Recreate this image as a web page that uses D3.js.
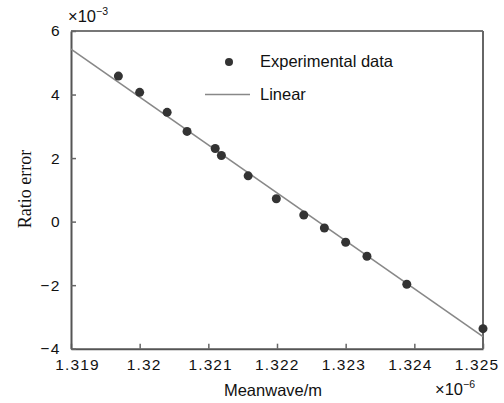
<!DOCTYPE html>
<html>
<head>
<meta charset="utf-8">
<title>Ratio error</title>
<script src="https://cdn.jsdelivr.net/npm/d3@7"></script>
<style>
  body { margin: 0; background: #fff; }
  text { font-family: "Liberation Sans", Arial, sans-serif; fill: #111; }
</style>
</head>
<body>
<svg id="chart" width="504" height="403"></svg>
<script>
// wavelength (x1e-6 m) and ratio error (x1e-3)
const waveValues = [1.31969, 1.3200, 1.3204, 1.32069, 1.3211, 1.32119, 1.32158,
                    1.32199, 1.32239, 1.32269, 1.3230, 1.32331, 1.32389, 1.3250];
const errorValues = [4.58, 4.07, 3.44, 2.84, 2.30, 2.08, 1.44,
                     0.72, 0.21, -0.20, -0.65, -1.09, -1.97, -3.37];
// linear fit end points
const fitWave = [1.319, 1.325];
const fitError = [5.43, -3.62];

const xTicks = [1.319, 1.32, 1.321, 1.322, 1.323, 1.324, 1.325];
const xTickLabels = ["1.319", "1.32", "1.321", "1.322", "1.323", "1.324", "1.325"];
const yTicks = [-4, -2, 0, 2, 4, 6];

const margin = { top: 31, right: 21, bottom: 55, left: 71 };
const width = 504 - margin.left - margin.right,
      height = 403 - margin.top - margin.bottom + 0.7;

const svg = d3.select("#chart");
const g = svg.append("g").attr("transform", `translate(${margin.left},${margin.top})`);

const x = d3.scaleLinear().domain([1.319, 1.325]).range([0, width]);
const y = d3.scaleLinear().domain([-4, 6]).range([height, 0]);
// the tick labels sit on a slightly narrower spread than the ticks
const xLabel = d3.scaleLinear().domain([1.319, 1.325]).range([6, 405.5]);

// frame top / right
g.append("line").attr("x1", 0).attr("x2", width).attr("y1", 0).attr("y2", 0)
  .attr("stroke", "#777").attr("stroke-width", 2);
g.append("line").attr("x1", width).attr("x2", width).attr("y1", 0).attr("y2", height)
  .attr("stroke", "#666").attr("stroke-width", 2);

// x axis
const gx = g.append("g").attr("transform", `translate(0,${height})`)
  .call(d3.axisBottom(x).tickValues(xTicks)
    .tickFormat((d, i) => xTickLabels[i]).tickSize(-5).tickPadding(10).tickSizeOuter(0));
gx.select(".domain").attr("stroke", "#555").attr("stroke-width", 2);
gx.selectAll(".tick line").attr("stroke", "#666").attr("stroke-width", 1.5);
gx.selectAll(".tick text").attr("font-size", 15.5).attr("letter-spacing", 1.1)
  .attr("x", d => xLabel(d) - x(d))
  .attr("font-family", "Liberation Sans, Arial, sans-serif").attr("fill", "#111");

// y axis
const gy = g.append("g")
  .call(d3.axisLeft(y).tickValues(yTicks).tickFormat(d => d < 0 ? "\u2212" + Math.abs(d) : d)
    .tickSize(-5).tickPadding(10).tickSizeOuter(0));
gy.select(".domain").attr("stroke", "#555").attr("stroke-width", 2);
gy.selectAll(".tick line").attr("stroke", "#666").attr("stroke-width", 1.5);
gy.selectAll("text").attr("font-size", 15.5).attr("letter-spacing", 1.5)
  .attr("font-family", "Liberation Sans, Arial, sans-serif").attr("fill", "#111");

// fit line
g.append("line")
  .attr("x1", x(fitWave[0])).attr("y1", y(fitError[0]))
  .attr("x2", x(fitWave[1])).attr("y2", y(fitError[1]))
  .attr("stroke", "#888").attr("stroke-width", 1.6);

// data points
g.selectAll("circle.pt")
  .data(waveValues.map((w, i) => [w, errorValues[i]]))
  .join("circle")
  .attr("class", "pt")
  .attr("cx", d => x(d[0])).attr("cy", d => y(d[1]))
  .attr("r", 4.5).attr("fill", "#333");

// legend
const lg = svg.append("g");
lg.append("circle").attr("cx", 229).attr("cy", 62).attr("r", 4).attr("fill", "#333");
lg.append("text").attr("x", 260).attr("y", 67).attr("font-size", 16.5).text("Experimental data");
lg.append("line").attr("x1", 205).attr("x2", 250).attr("y1", 94.5).attr("y2", 94.5)
  .attr("stroke", "#888").attr("stroke-width", 1.6);
lg.append("text").attr("x", 260).attr("y", 100).attr("font-size", 16.5).text("Linear");

// axis titles
svg.append("text").attr("transform", "translate(31,189) rotate(-90)")
  .attr("text-anchor", "middle").attr("font-size", 18)
  .style("font-family", "'Liberation Serif', 'Times New Roman', serif")
  .text("Ratio error");
svg.append("text").attr("x", 273).attr("y", 396).attr("text-anchor", "middle")
  .attr("font-size", 16.5).text("Meanwave/m");

// exponent labels
const e1 = svg.append("text").attr("x", 68).attr("y", 22).attr("font-size", 16.5);
e1.append("tspan").text("\u00d710");
e1.append("tspan").attr("dy", -7).attr("font-size", 10.5).text("\u22123");
const e2 = svg.append("text").attr("x", 435).attr("y", 395).attr("font-size", 16.5);
e2.append("tspan").text("\u00d710");
e2.append("tspan").attr("dy", -7).attr("font-size", 10.5).text("\u22126");
</script>
</body>
</html>
